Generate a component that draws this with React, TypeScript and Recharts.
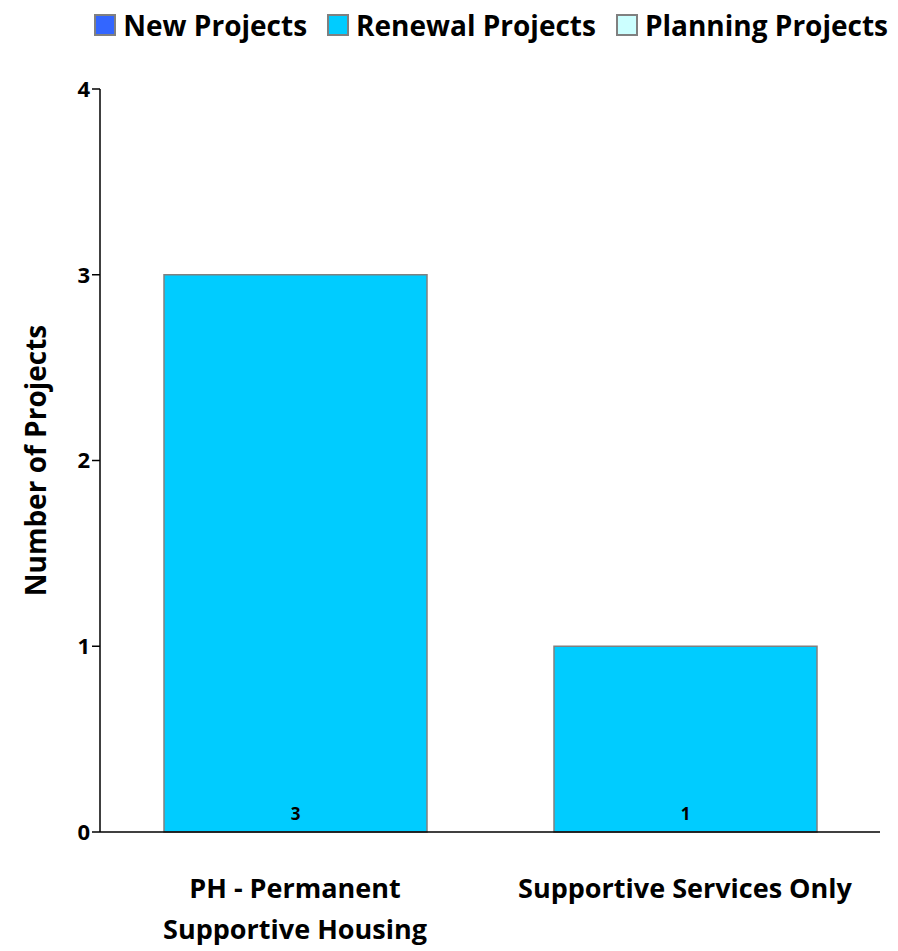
import React from 'react';
import { BarChart, Bar, XAxis, YAxis, Legend, LabelList } from 'recharts';

const categories = ['PH - Permanent Supportive Housing', 'Supportive Services Only'];
const newProjects = [0, 0];
const renewalProjects = [3, 1];
const planningProjects = [0, 0];
const yTicks = [0, 1, 2, 3, 4];

const data = categories.map((c, i) => ({
  name: c,
  newP: newProjects[i],
  renewal: renewalProjects[i],
  planning: planningProjects[i],
}));

const FONT = '"Open Sans", Lato, sans-serif';

const tickLines: Record<string, string[]> = {
  'PH - Permanent Supportive Housing': ['PH - Permanent', 'Supportive Housing'],
  'Supportive Services Only': ['Supportive Services Only'],
};

const XTick = (props: any) => {
  const { x, y, payload } = props;
  const lines = tickLines[payload.value] || [payload.value];
  return (
    <g transform={`translate(${x},${y})`}>
      {lines.map((l, i) => (
        <text key={i} x={0} y={58 + i * 41} textAnchor="middle" fontFamily={FONT} fontWeight="bold" fontSize={27} fill="#000">
          {l}
        </text>
      ))}
    </g>
  );
};

const legendItems = [
  { label: 'New Projects', color: '#3366FF' },
  { label: 'Renewal Projects', color: '#00CCFF' },
  { label: 'Planning Projects', color: '#CCFFFF' },
];

const LegendContent = () => (
  <div style={{ display: 'flex', justifyContent: 'flex-end', alignItems: 'center', fontFamily: FONT, fontWeight: 'bold', fontSize: 28, lineHeight: '32px', color: '#000' }}>
    {legendItems.map((it, i) => (
      <div key={it.label} style={{ display: 'flex', alignItems: 'center', marginLeft: i === 0 ? 0 : 20 }}>
        <span style={{ display: 'inline-block', width: 18, height: 18, background: it.color, border: '2px solid #808080', marginRight: 7 }} />
        <span>{it.label}</span>
      </div>
    ))}
  </div>
);

export default function App() {
  return (
    <BarChart width={890} height={943} data={data} margin={{ top: 49, right: 18, left: 0, bottom: 0 }} barSize={263}>
      <Legend verticalAlign="top" align="right" content={<LegendContent />} wrapperStyle={{ top: 1, left: 0, width: 880 }} />
      <XAxis dataKey="name" axisLine={{ stroke: '#000', strokeWidth: 1.5 }} tickLine={false} tick={<XTick />} interval={0} height={119} />
      <YAxis
        domain={[0, 4]}
        ticks={yTicks}
        width={92}
        axisLine={{ stroke: '#000', strokeWidth: 1.5 }}
        tickLine={{ stroke: '#000', strokeWidth: 1.5 }}
        tickSize={8}
        tick={{ fontFamily: FONT, fontWeight: 'bold', fontSize: 22, fill: '#000' }}
        label={{ value: 'Number of Projects', angle: -90, position: 'insideLeft', offset: 28, style: { fontFamily: FONT, fontWeight: 'bold', fontSize: 28, fill: '#000', textAnchor: 'middle' } }}
      />
      <Bar dataKey="newP" stackId="a" fill="#3366FF" isAnimationActive={false} />
      <Bar dataKey="renewal" stackId="a" fill="#00CCFF" stroke="#808080" strokeWidth={1.5} isAnimationActive={false}>
        <LabelList dataKey="renewal" position="insideBottom" offset={12} style={{ fontFamily: FONT, fontWeight: 'bold', fontSize: 17, fill: '#000' }} />
      </Bar>
      <Bar dataKey="planning" stackId="a" fill="#CCFFFF" isAnimationActive={false} />
    </BarChart>
  );
}
